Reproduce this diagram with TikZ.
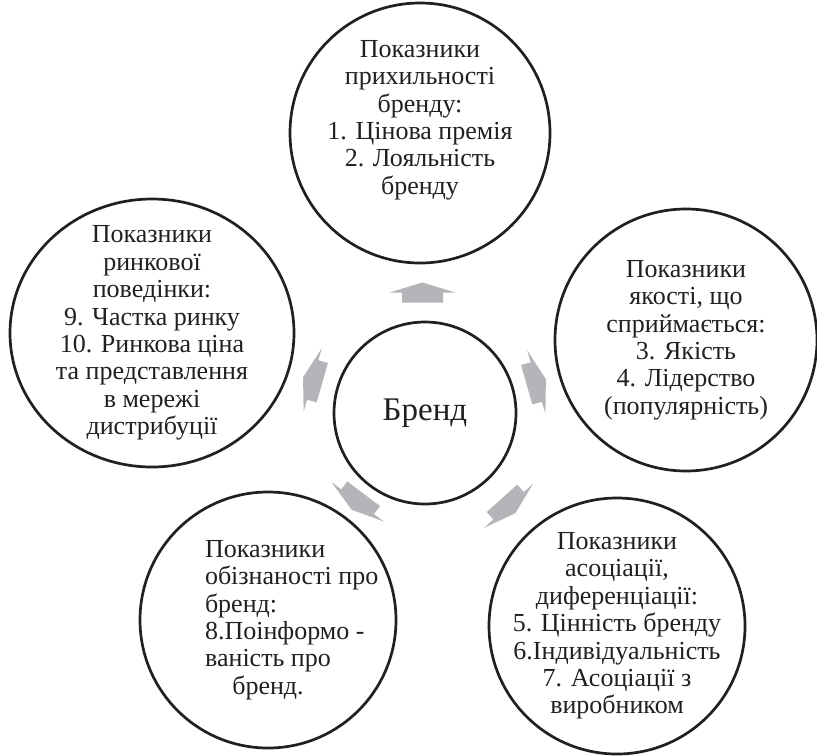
\documentclass[tikz,border=0pt]{standalone}
\usepackage{fontspec}
\setmainfont{Liberation Serif}
\usetikzlibrary{shapes.geometric, positioning, calc}

\definecolor{inkblack}{RGB}{35,31,32}
\definecolor{arrowgray}{RGB}{180,181,185}

\tikzset{
  bubble/.style={draw=inkblack, line width=1.35pt, circle, inner sep=0pt},
  btext/.style={align=center, text=inkblack, inner sep=0pt,
    font=\fontsize{13}{13.7}\selectfont},
}

\begin{document}
\begin{tikzpicture}[x=0.5pt, y=-0.5pt]
\useasboundingbox (0,0) rectangle (817,755);

% circles
\node[bubble, minimum size=91pt] (brand) at (425,413) {};
\node[bubble, minimum size=130pt] (top) at (420,133) {};
\node[bubble, minimum size=131pt] (right) at (686,340) {};
\node[bubble, minimum size=128pt] (botright) at (617,626) {};
\node[bubble, minimum size=128pt] (botleft) at (268,620) {};
\node[bubble, ellipse, minimum width=142pt, minimum height=134pt] (left) at (152,333) {};

% texts
\node[btext, font=\fontsize{16.5}{19}\selectfont] (brandtext) at (brand) {Бренд};
\node[btext] (toptext) at ([yshift=6.5pt]top.center)
  {Показники\\прихильності\\бренду:\\1. Цінова премія\\2. Лояльність\\бренду};
\node[btext] (righttext) at (right)
  {Показники\\якості, що\\сприймається:\\3. Якість\\4. Лідерство\\(популярність)};
\node[btext] (botrighttext) at (botright)
  {Показники\\асоціації,\\диференціації:\\5. Цінність бренду\\6.Індивідуальність\\7. Асоціації з\\виробником};
\node[btext] (botlefttext) at (botleft)
  {\makebox[63pt][l]{Показники}\\\makebox[63pt][l]{обізнаності про}\\
   \makebox[63pt][l]{бренд:}\\\makebox[63pt][l]{8.Поінформо -}\\ваність про\\бренд.};
\node[btext] (lefttext) at (left)
  {Показники\\ринкової\\поведінки:\\9. Частка ринку\\10. Ринкова ціна\\та представлення\\в мережі\\дистрибуції};

% block arrows between the circles
\foreach \ang/\out in {90/top, 16/right, -48/botright, -127/botleft, 164/left} {
  \pgfmathtruncatemacro{\back}{\ang+180}
  \coordinate (mid) at ($(brand.\ang)!.5!(\out.\back)$);
  \fill[arrowgray, shift={(mid)}, rotate=\ang]
    (-10,-20.5) -- (0,-20.5) -- (0,-33) -- (10,0) -- (0,33) -- (0,20.5) -- (-10,20.5) -- cycle;
}
\end{tikzpicture}
\end{document}
